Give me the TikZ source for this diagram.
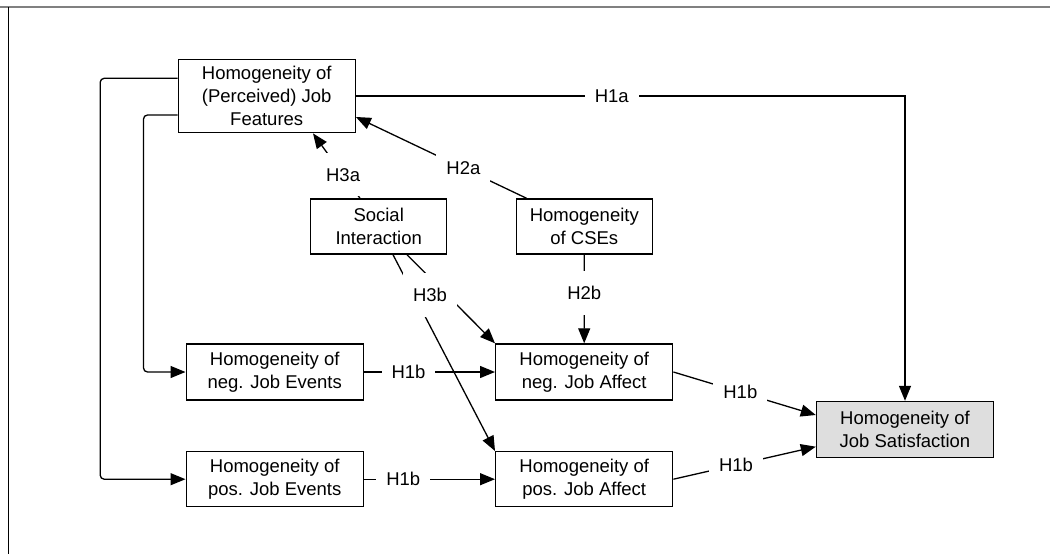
\documentclass[tikz,border=0pt]{standalone}
\usepackage{fontspec}
\setmainfont{Liberation Sans}
\usetikzlibrary{arrows.meta,calc}
\begin{document}
\begin{tikzpicture}[x=1pt,y=-1pt,
  font=\fontsize{18.5}{23.3}\selectfont,
  box/.style={draw,line width=1.4pt,rectangle,inner sep=0pt,align=center,
    minimum width=177pt,minimum height=56pt},
  smallbox/.style={box,minimum width=136pt,minimum height=55pt},
  conn/.style={line width=1.3pt},
  arr/.style={conn,-{Triangle[length=15pt,width=12pt]}},
  hyp/.style={fill=white,inner xsep=10pt,inner ysep=15pt},
]
\useasboundingbox (0,0) rectangle (1050,554);
% page frame
\draw[gray,line width=2pt] (0,7.3) -- (1050,7.3);
\draw[line width=1pt] (8,7.3) -- (8,554);

% constructs
\node[box,minimum height=73.4pt] (JF) at (266.7,96) {Homogeneity of\\(Perceived) Job\\Features};
\node[smallbox] (SI) at (378.7,226.5) {Social\\Interaction};
\node[smallbox] (CSE) at (584.3,226.5) {Homogeneity\\of CSEs};
\node[box] (NE) at (274.7,372) {Homogeneity of\\neg. Job Events};
\node[box,minimum height=55pt] (PE) at (274.7,479.2) {Homogeneity of\\pos. Job Events};
\node[box] (NA) at (584.2,372) {Homogeneity of\\neg. Job Affect};
\node[box,minimum height=55pt] (PA) at (584.2,479.2) {Homogeneity of\\pos. Job Affect};
\node[box,fill=black!13] (JS) at (905,429.5) {Homogeneity of\\Job Satisfaction};

% job features to the outcome and to the events
\draw[arr] (JF.east) -| node[hyp,pos=0.233] {H1a} (JS.north);
\draw[arr,rounded corners=4pt] ($(JF.west)+(0,-17.7)$) -| ([xshift=-85.3pt]PE.west) -- (PE.west);
\draw[arr,rounded corners=4pt] ($(JF.west)+(0,19)$) -| ([xshift=-42pt]NE.west) -- (NE.west);

% events to affect, affect to satisfaction
\draw[arr] (NE.east) -- node[hyp,pos=0.34] {H1b} (NA.west);
\draw[arr] (PE.east) -- node[hyp,pos=0.30] {H1b} (PA.west);
\draw[arr] (NA.east) -- node[hyp,pos=0.47] {H1b} ($(JS.west)+(0,-14.5)$);
\draw[arr] (PA.east) -- node[hyp,pos=0.44] {H1b} ($(JS.west)+(0,17.2)$);

% core self-evaluations
\draw[arr] ($(CSE.north west)+(11,0)$) -- node[hyp,pos=0.37] {H2a} ($(JF.east)+(0,21)$);
\draw[arr] (CSE.south) -- node[hyp,pos=0.43] {H2b} (NA.north);

% social interaction
\draw[arr] ($(SI.north)+(-18.7,0)$) -- node[hyp,pos=0.36] {H3a} ($(JF.south)+(46.3,0)$);
\draw[arr] ($(SI.south)+(14.3,0)$) -- (PA.north west);
\draw[arr] ($(SI.south)+(28.3,0)$) -- (NA.north west);
\node[hyp] (h3b) at (430,295) {H3b};
\end{tikzpicture}
\end{document}
